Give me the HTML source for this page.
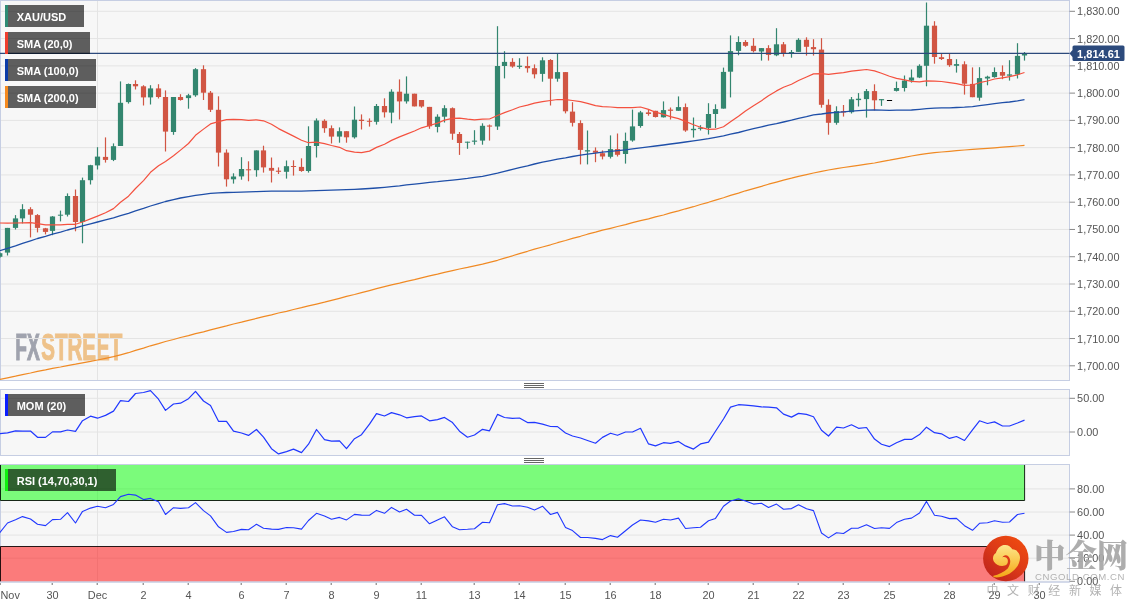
<!DOCTYPE html>
<html lang="en"><head><meta charset="utf-8"><title>XAU/USD</title>
<style>
html,body{margin:0;padding:0;background:#fff;}
body{width:1140px;height:608px;overflow:hidden;position:relative;font-family:"Liberation Sans","Noto Sans CJK SC",sans-serif;}
svg{position:absolute;left:0;top:0;display:block;}
text{font-family:"Liberation Sans","Noto Sans CJK SC",sans-serif;}
.ax{font-size:10.9px;fill:#555;}
.tag{font-size:11px;font-weight:bold;fill:#fff;}
</style></head><body>
<svg width="1140" height="608" viewBox="0 0 1140 608">
<rect x="0" y="0" width="1140" height="608" fill="#fff"/>
<rect x="0.5" y="0.5" width="1069.0" height="380.0" fill="#f7f7f7" stroke="#c6cee3" stroke-width="1"/>
<rect x="0.5" y="389.5" width="1069.0" height="66.0" fill="#f7f7f7" stroke="#c6cee3" stroke-width="1"/>
<rect x="0.5" y="464.5" width="1069.0" height="117.5" fill="#f7f7f7" stroke="#c6cee3" stroke-width="1"/>
<g font-weight="bold" font-size="36.3" opacity="0.8" transform="translate(15.3,359.9) scale(0.575,1)"><text x="0" y="0" fill="#8b8f9c" stroke="#8b8f9c" stroke-width="1.2" textLength="42.5" lengthAdjust="spacingAndGlyphs">FX</text><text x="45" y="0" fill="#edb56f" stroke="#edb56f" stroke-width="1.2" textLength="141" lengthAdjust="spacingAndGlyphs">STREET</text></g>
<g stroke="#e4e4e4" stroke-width="1" fill="none">
<path d="M1 11.3H1069.0"/>
<path d="M1 38.57H1069.0"/>
<path d="M1 65.84H1069.0"/>
<path d="M1 93.11H1069.0"/>
<path d="M1 120.38H1069.0"/>
<path d="M1 147.65H1069.0"/>
<path d="M1 174.92H1069.0"/>
<path d="M1 202.19H1069.0"/>
<path d="M1 229.46H1069.0"/>
<path d="M1 256.73H1069.0"/>
<path d="M1 284.0H1069.0"/>
<path d="M1 311.27H1069.0"/>
<path d="M1 338.54H1069.0"/>
<path d="M1 365.81H1069.0"/>
<path d="M97.5 1V380"/><path d="M97.5 390V455"/><path d="M97.5 465V581.5"/>
<path d="M1 398.3H1069.0"/>
<path d="M1 432.0H1069.0"/>
<path d="M1 488.9H1069.0"/>
<path d="M1 512.0H1069.0"/>
<path d="M1 535.1H1069.0"/>
<path d="M1 558.2H1069.0"/>
</g>
<g stroke="#666" stroke-width="1">
<path d="M524 383.5H544"/>
<path d="M524 385.5H544"/>
<path d="M524 387.5H544"/>
<path d="M524 458.5H544"/>
<path d="M524 460.5H544"/>
<path d="M524 462.5H544"/>
</g>
<g stroke="#888" stroke-width="1">
<path d="M1069.5 11.3H1075.0"/>
<path d="M1069.5 38.57H1075.0"/>
<path d="M1069.5 65.84H1075.0"/>
<path d="M1069.5 93.11H1075.0"/>
<path d="M1069.5 120.38H1075.0"/>
<path d="M1069.5 147.65H1075.0"/>
<path d="M1069.5 174.92H1075.0"/>
<path d="M1069.5 202.19H1075.0"/>
<path d="M1069.5 229.46H1075.0"/>
<path d="M1069.5 256.73H1075.0"/>
<path d="M1069.5 284.0H1075.0"/>
<path d="M1069.5 311.27H1075.0"/>
<path d="M1069.5 338.54H1075.0"/>
<path d="M1069.5 365.81H1075.0"/>
<path d="M1069.5 398.3H1075.0"/>
<path d="M1069.5 432.0H1075.0"/>
<path d="M1069.5 488.9H1075.0"/>
<path d="M1069.5 512.0H1075.0"/>
<path d="M1069.5 535.1H1075.0"/>
<path d="M1069.5 558.2H1075.0"/>
<path d="M1069.5 581.3H1075.0"/>
</g>
<g class="ax">
<text x="1077.1" y="15.30">1,830.00</text>
<text x="1077.1" y="42.57">1,820.00</text>
<text x="1077.1" y="69.84">1,810.00</text>
<text x="1077.1" y="97.11">1,800.00</text>
<text x="1077.1" y="124.38">1,790.00</text>
<text x="1077.1" y="151.65">1,780.00</text>
<text x="1077.1" y="178.92">1,770.00</text>
<text x="1077.1" y="206.19">1,760.00</text>
<text x="1077.1" y="233.46">1,750.00</text>
<text x="1077.1" y="260.73">1,740.00</text>
<text x="1077.1" y="288.00">1,730.00</text>
<text x="1077.1" y="315.27">1,720.00</text>
<text x="1077.1" y="342.54">1,710.00</text>
<text x="1077.1" y="369.81">1,700.00</text>
<text x="1077.1" y="402.0">50.00</text>
<text x="1077.1" y="435.8">0.00</text>
<text x="1077.1" y="492.79999999999995">80.00</text>
<text x="1077.1" y="515.9">60.00</text>
<text x="1077.1" y="539.0">40.00</text>
<text x="1077.1" y="562.1">20.00</text>
<text x="1077.1" y="585.2">0.00</text>
</g>
<rect x="0" y="465" width="1024.6" height="35.5" fill="#00ff00" fill-opacity="0.5"/>
<rect x="0" y="546.5" width="1024.6" height="35" fill="#ff0000" fill-opacity="0.5"/>
<path d="M0.5 465V500.5H1024.6V465" fill="none" stroke="#061006" stroke-opacity="0.9" stroke-width="1"/>
<path d="M0.5 581.5V546.5H1024.6V581.5" fill="none" stroke="#100606" stroke-opacity="0.9" stroke-width="1"/>
<path d="M0 464.5H1069.5M0 582H1069.5" fill="none" stroke="#c6cee3" stroke-width="1"/>
<path d="M-0.2 252.3V258.0" stroke="#33866f" stroke-width="1.2"/>
<rect x="-2.8" y="253.2" width="5.2" height="3.6" fill="#33866f"/>
<path d="M7.5 227.9V255.5" stroke="#33866f" stroke-width="1.2"/>
<rect x="4.9" y="227.9" width="5.2" height="24.7" fill="#33866f"/>
<path d="M15.5 215.1V229.5" stroke="#33866f" stroke-width="1.2"/>
<rect x="12.9" y="218.4" width="5.2" height="9.5" fill="#33866f"/>
<path d="M22.5 204.2V223.4" stroke="#33866f" stroke-width="1.2"/>
<rect x="19.9" y="209.2" width="5.2" height="9.2" fill="#33866f"/>
<path d="M30.5 207.2V237.4" stroke="#d15543" stroke-width="1.2"/>
<rect x="27.9" y="209.2" width="5.2" height="5.5" fill="#d15543"/>
<path d="M37.5 214.1V232.4" stroke="#d15543" stroke-width="1.2"/>
<rect x="34.9" y="215.1" width="5.2" height="12.8" fill="#d15543"/>
<path d="M45.5 227.9V234.4" stroke="#d15543" stroke-width="1.2"/>
<rect x="42.9" y="228.3" width="5.2" height="3.6" fill="#d15543"/>
<path d="M52.5 216.1V235.2" stroke="#33866f" stroke-width="1.2"/>
<rect x="49.9" y="216.5" width="5.2" height="14.4" fill="#33866f"/>
<path d="M60.5 210.6V221.4" stroke="#33866f" stroke-width="1.2"/>
<rect x="57.9" y="214.7" width="5.2" height="1.0" fill="#33866f"/>
<path d="M67.5 193.4V216.5" stroke="#33866f" stroke-width="1.2"/>
<rect x="64.9" y="196.0" width="5.2" height="18.7" fill="#33866f"/>
<path d="M75.5 189.5V231.3" stroke="#d15543" stroke-width="1.2"/>
<rect x="72.9" y="196.0" width="5.2" height="26.0" fill="#d15543"/>
<path d="M82.5 177.6V243.3" stroke="#33866f" stroke-width="1.2"/>
<rect x="79.9" y="180.2" width="5.2" height="41.8" fill="#33866f"/>
<path d="M90.5 164.8V184.5" stroke="#33866f" stroke-width="1.2"/>
<rect x="87.9" y="165.2" width="5.2" height="15.0" fill="#33866f"/>
<path d="M97.5 147.2V169.5" stroke="#33866f" stroke-width="1.2"/>
<rect x="94.9" y="156.6" width="5.2" height="8.8" fill="#33866f"/>
<path d="M105.5 137.4V162.6" stroke="#d15543" stroke-width="1.2"/>
<rect x="102.9" y="156.9" width="5.2" height="3.0" fill="#d15543"/>
<path d="M113.5 143.4V161.1" stroke="#33866f" stroke-width="1.2"/>
<rect x="110.9" y="146.2" width="5.2" height="13.7" fill="#33866f"/>
<path d="M120.5 81.4V146.0" stroke="#33866f" stroke-width="1.2"/>
<rect x="117.9" y="102.8" width="5.2" height="43.2" fill="#33866f"/>
<path d="M128.5 83.5V103.6" stroke="#33866f" stroke-width="1.2"/>
<rect x="125.9" y="84.0" width="5.2" height="18.1" fill="#33866f"/>
<path d="M135.5 80.3V89.5" stroke="#d15543" stroke-width="1.2"/>
<rect x="132.9" y="84.0" width="5.2" height="2.3" fill="#d15543"/>
<path d="M143.5 85.2V105.5" stroke="#d15543" stroke-width="1.2"/>
<rect x="140.9" y="86.3" width="5.2" height="11.1" fill="#d15543"/>
<path d="M150.5 85.2V104.5" stroke="#33866f" stroke-width="1.2"/>
<rect x="147.9" y="88.4" width="5.2" height="9.0" fill="#33866f"/>
<path d="M158.5 84.2V98.5" stroke="#d15543" stroke-width="1.2"/>
<rect x="155.9" y="88.4" width="5.2" height="8.6" fill="#d15543"/>
<path d="M165.5 90.4V151.5" stroke="#d15543" stroke-width="1.2"/>
<rect x="162.9" y="97.0" width="5.2" height="34.6" fill="#d15543"/>
<path d="M173.5 97.0V134.8" stroke="#33866f" stroke-width="1.2"/>
<rect x="170.9" y="97.0" width="5.2" height="35.0" fill="#33866f"/>
<path d="M180.5 94.2V100.6" stroke="#d15543" stroke-width="1.2"/>
<rect x="177.9" y="97.0" width="5.2" height="3.0" fill="#d15543"/>
<path d="M188.5 93.8V108.7" stroke="#33866f" stroke-width="1.2"/>
<rect x="185.9" y="95.3" width="5.2" height="2.8" fill="#33866f"/>
<path d="M195.5 68.1V96.8" stroke="#33866f" stroke-width="1.2"/>
<rect x="192.9" y="69.2" width="5.2" height="26.1" fill="#33866f"/>
<path d="M203.5 65.3V100.0" stroke="#d15543" stroke-width="1.2"/>
<rect x="200.9" y="69.2" width="5.2" height="23.5" fill="#d15543"/>
<path d="M210.5 91.0V112.0" stroke="#d15543" stroke-width="1.2"/>
<rect x="207.9" y="92.7" width="5.2" height="17.1" fill="#d15543"/>
<path d="M218.5 96.3V166.5" stroke="#d15543" stroke-width="1.2"/>
<rect x="215.9" y="109.8" width="5.2" height="42.8" fill="#d15543"/>
<path d="M226.5 149.4V186.6" stroke="#d15543" stroke-width="1.2"/>
<rect x="223.9" y="152.6" width="5.2" height="26.7" fill="#d15543"/>
<path d="M233.5 173.3V183.6" stroke="#33866f" stroke-width="1.2"/>
<rect x="230.9" y="176.5" width="5.2" height="2.8" fill="#33866f"/>
<path d="M241.5 157.2V179.7" stroke="#33866f" stroke-width="1.2"/>
<rect x="238.9" y="169.0" width="5.2" height="7.4" fill="#33866f"/>
<path d="M248.5 161.3V181.3" stroke="#d15543" stroke-width="1.2"/>
<rect x="245.9" y="169.3" width="5.2" height="1.0" fill="#d15543"/>
<path d="M256.5 150.4V176.7" stroke="#33866f" stroke-width="1.2"/>
<rect x="253.9" y="150.4" width="5.2" height="19.8" fill="#33866f"/>
<path d="M263.5 145.7V172.6" stroke="#d15543" stroke-width="1.2"/>
<rect x="260.9" y="150.4" width="5.2" height="17.0" fill="#d15543"/>
<path d="M271.5 157.5V182.5" stroke="#d15543" stroke-width="1.2"/>
<rect x="268.9" y="167.9" width="5.2" height="2.8" fill="#d15543"/>
<path d="M278.5 167.4V174.0" stroke="#d15543" stroke-width="1.2"/>
<rect x="275.9" y="170.7" width="5.2" height="1.1" fill="#d15543"/>
<path d="M286.5 160.5V178.6" stroke="#33866f" stroke-width="1.2"/>
<rect x="283.9" y="166.2" width="5.2" height="5.6" fill="#33866f"/>
<path d="M293.5 160.3V175.6" stroke="#d15543" stroke-width="1.2"/>
<rect x="290.9" y="166.0" width="5.2" height="1.0" fill="#d15543"/>
<path d="M301.5 158.3V171.8" stroke="#d15543" stroke-width="1.2"/>
<rect x="298.9" y="166.9" width="5.2" height="4.1" fill="#d15543"/>
<path d="M308.5 126.3V172.6" stroke="#33866f" stroke-width="1.2"/>
<rect x="305.9" y="146.0" width="5.2" height="25.0" fill="#33866f"/>
<path d="M316.5 118.4V157.5" stroke="#33866f" stroke-width="1.2"/>
<rect x="313.9" y="120.5" width="5.2" height="25.5" fill="#33866f"/>
<path d="M324.5 119.3V132.8" stroke="#d15543" stroke-width="1.2"/>
<rect x="321.9" y="120.8" width="5.2" height="7.4" fill="#d15543"/>
<path d="M331.5 125.4V143.5" stroke="#d15543" stroke-width="1.2"/>
<rect x="328.9" y="128.2" width="5.2" height="8.4" fill="#d15543"/>
<path d="M339.5 127.4V142.7" stroke="#33866f" stroke-width="1.2"/>
<rect x="336.9" y="131.2" width="5.2" height="5.4" fill="#33866f"/>
<path d="M346.5 131.2V142.7" stroke="#d15543" stroke-width="1.2"/>
<rect x="343.9" y="131.2" width="5.2" height="6.1" fill="#d15543"/>
<path d="M354.5 106.5V138.6" stroke="#33866f" stroke-width="1.2"/>
<rect x="351.9" y="119.7" width="5.2" height="17.6" fill="#33866f"/>
<path d="M361.5 114.4V129.5" stroke="#d15543" stroke-width="1.2"/>
<rect x="358.9" y="119.7" width="5.2" height="1.3" fill="#d15543"/>
<path d="M369.5 118.4V126.6" stroke="#d15543" stroke-width="1.2"/>
<rect x="366.9" y="120.8" width="5.2" height="1.0" fill="#d15543"/>
<path d="M376.5 104.0V124.6" stroke="#33866f" stroke-width="1.2"/>
<rect x="373.9" y="106.0" width="5.2" height="15.8" fill="#33866f"/>
<path d="M384.5 98.3V117.5" stroke="#d15543" stroke-width="1.2"/>
<rect x="381.9" y="106.0" width="5.2" height="6.3" fill="#d15543"/>
<path d="M391.5 89.3V123.3" stroke="#33866f" stroke-width="1.2"/>
<rect x="388.9" y="91.7" width="5.2" height="20.9" fill="#33866f"/>
<path d="M399.5 79.4V119.5" stroke="#d15543" stroke-width="1.2"/>
<rect x="396.9" y="91.7" width="5.2" height="9.7" fill="#d15543"/>
<path d="M406.5 76.4V103.6" stroke="#33866f" stroke-width="1.2"/>
<rect x="403.9" y="93.7" width="5.2" height="7.7" fill="#33866f"/>
<path d="M414.5 93.7V106.4" stroke="#d15543" stroke-width="1.2"/>
<rect x="411.9" y="93.7" width="5.2" height="12.7" fill="#d15543"/>
<path d="M421.5 100.0V107.7" stroke="#d15543" stroke-width="1.2"/>
<rect x="418.9" y="100.0" width="5.2" height="6.5" fill="#d15543"/>
<path d="M429.5 106.9V128.8" stroke="#d15543" stroke-width="1.2"/>
<rect x="426.9" y="106.9" width="5.2" height="19.4" fill="#d15543"/>
<path d="M437.5 114.3V132.4" stroke="#33866f" stroke-width="1.2"/>
<rect x="434.9" y="116.7" width="5.2" height="10.2" fill="#33866f"/>
<path d="M444.5 105.2V122.5" stroke="#33866f" stroke-width="1.2"/>
<rect x="441.9" y="108.2" width="5.2" height="8.5" fill="#33866f"/>
<path d="M452.5 107.4V139.8" stroke="#d15543" stroke-width="1.2"/>
<rect x="449.9" y="108.2" width="5.2" height="25.5" fill="#d15543"/>
<path d="M459.5 132.0V154.9" stroke="#d15543" stroke-width="1.2"/>
<rect x="456.9" y="134.0" width="5.2" height="9.0" fill="#d15543"/>
<path d="M467.5 141.7V148.8" stroke="#33866f" stroke-width="1.2"/>
<rect x="464.9" y="141.7" width="5.2" height="1.0" fill="#33866f"/>
<path d="M474.5 130.2V144.7" stroke="#33866f" stroke-width="1.2"/>
<rect x="471.9" y="140.6" width="5.2" height="1.1" fill="#33866f"/>
<path d="M482.5 123.3V144.7" stroke="#33866f" stroke-width="1.2"/>
<rect x="479.9" y="125.8" width="5.2" height="14.8" fill="#33866f"/>
<path d="M489.5 124.5V140.6" stroke="#d15543" stroke-width="1.2"/>
<rect x="486.9" y="125.5" width="5.2" height="1.1" fill="#d15543"/>
<path d="M497.5 26.2V129.9" stroke="#33866f" stroke-width="1.2"/>
<rect x="494.9" y="66.0" width="5.2" height="60.5" fill="#33866f"/>
<path d="M504.5 51.2V78.4" stroke="#33866f" stroke-width="1.2"/>
<rect x="501.9" y="61.9" width="5.2" height="4.1" fill="#33866f"/>
<path d="M512.5 58.2V67.7" stroke="#d15543" stroke-width="1.2"/>
<rect x="509.9" y="61.9" width="5.2" height="4.6" fill="#d15543"/>
<path d="M519.5 58.2V68.8" stroke="#33866f" stroke-width="1.2"/>
<rect x="516.9" y="65.7" width="5.2" height="1.2" fill="#33866f"/>
<path d="M527.5 56.5V72.6" stroke="#d15543" stroke-width="1.2"/>
<rect x="524.9" y="66.0" width="5.2" height="2.2" fill="#d15543"/>
<path d="M534.5 64.4V78.4" stroke="#d15543" stroke-width="1.2"/>
<rect x="531.9" y="68.2" width="5.2" height="6.1" fill="#d15543"/>
<path d="M542.5 57.3V81.7" stroke="#33866f" stroke-width="1.2"/>
<rect x="539.9" y="60.3" width="5.2" height="13.6" fill="#33866f"/>
<path d="M550.5 59.1V105.5" stroke="#d15543" stroke-width="1.2"/>
<rect x="547.9" y="60.0" width="5.2" height="18.7" fill="#d15543"/>
<path d="M557.5 54.0V81.7" stroke="#33866f" stroke-width="1.2"/>
<rect x="554.9" y="72.1" width="5.2" height="6.6" fill="#33866f"/>
<path d="M565.5 72.1V113.4" stroke="#d15543" stroke-width="1.2"/>
<rect x="562.9" y="72.1" width="5.2" height="39.2" fill="#d15543"/>
<path d="M572.5 102.2V126.5" stroke="#d15543" stroke-width="1.2"/>
<rect x="569.9" y="111.6" width="5.2" height="11.2" fill="#d15543"/>
<path d="M580.5 120.3V164.4" stroke="#d15543" stroke-width="1.2"/>
<rect x="577.9" y="123.1" width="5.2" height="26.8" fill="#d15543"/>
<path d="M587.5 130.5V164.4" stroke="#33866f" stroke-width="1.2"/>
<rect x="584.9" y="150.2" width="5.2" height="1.3" fill="#33866f"/>
<path d="M595.5 147.4V162.2" stroke="#d15543" stroke-width="1.2"/>
<rect x="592.9" y="150.7" width="5.2" height="2.0" fill="#d15543"/>
<path d="M602.5 150.4V159.4" stroke="#d15543" stroke-width="1.2"/>
<rect x="599.9" y="153.2" width="5.2" height="3.3" fill="#d15543"/>
<path d="M610.5 135.4V158.5" stroke="#33866f" stroke-width="1.2"/>
<rect x="607.9" y="149.1" width="5.2" height="7.7" fill="#33866f"/>
<path d="M617.5 133.5V156.5" stroke="#d15543" stroke-width="1.2"/>
<rect x="614.9" y="149.1" width="5.2" height="5.7" fill="#d15543"/>
<path d="M625.5 132.6V163.6" stroke="#33866f" stroke-width="1.2"/>
<rect x="622.9" y="140.9" width="5.2" height="13.1" fill="#33866f"/>
<path d="M632.5 109.6V141.7" stroke="#33866f" stroke-width="1.2"/>
<rect x="629.9" y="126.4" width="5.2" height="14.1" fill="#33866f"/>
<path d="M640.5 110.9V127.7" stroke="#33866f" stroke-width="1.2"/>
<rect x="637.9" y="112.4" width="5.2" height="13.6" fill="#33866f"/>
<path d="M648.5 109.3V115.7" stroke="#d15543" stroke-width="1.2"/>
<rect x="645.9" y="112.4" width="5.2" height="1.6" fill="#d15543"/>
<path d="M655.5 110.8V117.5" stroke="#d15543" stroke-width="1.2"/>
<rect x="652.9" y="110.8" width="5.2" height="6.2" fill="#d15543"/>
<path d="M663.5 101.4V117.5" stroke="#33866f" stroke-width="1.2"/>
<rect x="660.9" y="110.1" width="5.2" height="7.2" fill="#33866f"/>
<path d="M670.5 107.5V119.5" stroke="#d15543" stroke-width="1.2"/>
<rect x="667.9" y="109.6" width="5.2" height="1.2" fill="#d15543"/>
<path d="M678.5 96.4V110.8" stroke="#33866f" stroke-width="1.2"/>
<rect x="675.9" y="107.1" width="5.2" height="3.7" fill="#33866f"/>
<path d="M685.5 103.5V131.8" stroke="#d15543" stroke-width="1.2"/>
<rect x="682.9" y="107.1" width="5.2" height="23.4" fill="#d15543"/>
<path d="M693.5 117.5V137.6" stroke="#33866f" stroke-width="1.2"/>
<rect x="690.9" y="128.8" width="5.2" height="1.4" fill="#33866f"/>
<path d="M700.5 125.2V130.5" stroke="#33866f" stroke-width="1.2"/>
<rect x="697.9" y="127.7" width="5.2" height="1.1" fill="#33866f"/>
<path d="M708.5 103.2V134.5" stroke="#33866f" stroke-width="1.2"/>
<rect x="705.9" y="114.0" width="5.2" height="13.9" fill="#33866f"/>
<path d="M715.5 104.3V128.0" stroke="#33866f" stroke-width="1.2"/>
<rect x="712.9" y="109.1" width="5.2" height="4.9" fill="#33866f"/>
<path d="M723.5 67.6V108.6" stroke="#33866f" stroke-width="1.2"/>
<rect x="720.9" y="71.9" width="5.2" height="36.7" fill="#33866f"/>
<path d="M730.5 35.4V97.4" stroke="#33866f" stroke-width="1.2"/>
<rect x="727.9" y="51.1" width="5.2" height="20.6" fill="#33866f"/>
<path d="M738.5 36.3V55.3" stroke="#33866f" stroke-width="1.2"/>
<rect x="735.9" y="42.0" width="5.2" height="8.9" fill="#33866f"/>
<path d="M745.5 40.1V46.8" stroke="#d15543" stroke-width="1.2"/>
<rect x="742.9" y="42.0" width="5.2" height="3.8" fill="#d15543"/>
<path d="M753.5 38.2V52.4" stroke="#d15543" stroke-width="1.2"/>
<rect x="750.9" y="45.8" width="5.2" height="5.3" fill="#d15543"/>
<path d="M761.5 48.1V60.6" stroke="#33866f" stroke-width="1.2"/>
<rect x="758.9" y="48.1" width="5.2" height="3.4" fill="#33866f"/>
<path d="M768.5 45.2V60.6" stroke="#d15543" stroke-width="1.2"/>
<rect x="765.9" y="48.1" width="5.2" height="6.8" fill="#d15543"/>
<path d="M776.5 28.2V56.2" stroke="#33866f" stroke-width="1.2"/>
<rect x="773.9" y="44.3" width="5.2" height="11.0" fill="#33866f"/>
<path d="M783.5 42.0V56.6" stroke="#d15543" stroke-width="1.2"/>
<rect x="780.9" y="44.3" width="5.2" height="9.1" fill="#d15543"/>
<path d="M791.5 50.0V57.7" stroke="#33866f" stroke-width="1.2"/>
<rect x="788.9" y="52.0" width="5.2" height="1.4" fill="#33866f"/>
<path d="M798.5 38.2V51.9" stroke="#33866f" stroke-width="1.2"/>
<rect x="795.9" y="39.8" width="5.2" height="12.1" fill="#33866f"/>
<path d="M806.5 37.3V55.6" stroke="#d15543" stroke-width="1.2"/>
<rect x="803.9" y="39.8" width="5.2" height="7.0" fill="#d15543"/>
<path d="M813.5 39.2V55.6" stroke="#d15543" stroke-width="1.2"/>
<rect x="810.9" y="47.1" width="5.2" height="2.1" fill="#d15543"/>
<path d="M821.5 38.2V107.7" stroke="#d15543" stroke-width="1.2"/>
<rect x="818.9" y="49.6" width="5.2" height="55.2" fill="#d15543"/>
<path d="M828.5 99.3V134.7" stroke="#d15543" stroke-width="1.2"/>
<rect x="825.9" y="104.8" width="5.2" height="18.0" fill="#d15543"/>
<path d="M836.5 106.3V124.7" stroke="#33866f" stroke-width="1.2"/>
<rect x="833.9" y="111.1" width="5.2" height="11.7" fill="#33866f"/>
<path d="M843.5 105.0V116.6" stroke="#d15543" stroke-width="1.2"/>
<rect x="840.9" y="111.1" width="5.2" height="1.4" fill="#d15543"/>
<path d="M851.5 97.0V113.5" stroke="#33866f" stroke-width="1.2"/>
<rect x="848.9" y="99.3" width="5.2" height="12.9" fill="#33866f"/>
<path d="M858.5 93.1V106.5" stroke="#33866f" stroke-width="1.2"/>
<rect x="855.9" y="98.7" width="5.2" height="1.4" fill="#33866f"/>
<path d="M866.5 89.0V117.6" stroke="#33866f" stroke-width="1.2"/>
<rect x="863.9" y="91.1" width="5.2" height="8.0" fill="#33866f"/>
<path d="M874.5 84.3V110.4" stroke="#d15543" stroke-width="1.2"/>
<rect x="871.9" y="91.1" width="5.2" height="9.2" fill="#d15543"/>
<path d="M881.5 99.1V105.9" stroke="#33866f" stroke-width="1.2"/>
<rect x="878.9" y="99.1" width="5.2" height="1.2" fill="#33866f"/>
<path d="M889.5 100.5V100.5" stroke="#000" stroke-width="1.2"/>
<rect x="886.9" y="100.0" width="5.2" height="1.0" fill="#000"/>
<path d="M896.5 81.6V91.5" stroke="#33866f" stroke-width="1.2"/>
<rect x="893.9" y="88.0" width="5.2" height="2.9" fill="#33866f"/>
<path d="M904.5 75.5V91.5" stroke="#33866f" stroke-width="1.2"/>
<rect x="901.9" y="80.6" width="5.2" height="7.4" fill="#33866f"/>
<path d="M911.5 69.5V82.6" stroke="#33866f" stroke-width="1.2"/>
<rect x="908.9" y="77.5" width="5.2" height="3.1" fill="#33866f"/>
<path d="M919.5 64.3V78.1" stroke="#33866f" stroke-width="1.2"/>
<rect x="916.9" y="65.8" width="5.2" height="11.7" fill="#33866f"/>
<path d="M926.5 2.5V86.3" stroke="#33866f" stroke-width="1.2"/>
<rect x="923.9" y="25.7" width="5.2" height="40.1" fill="#33866f"/>
<path d="M934.5 21.2V63.7" stroke="#d15543" stroke-width="1.2"/>
<rect x="931.9" y="25.7" width="5.2" height="31.3" fill="#d15543"/>
<path d="M941.5 53.0V60.0" stroke="#d15543" stroke-width="1.2"/>
<rect x="938.9" y="57.2" width="5.2" height="1.8" fill="#d15543"/>
<path d="M949.5 53.9V66.8" stroke="#d15543" stroke-width="1.2"/>
<rect x="946.9" y="59.0" width="5.2" height="6.2" fill="#d15543"/>
<path d="M956.5 59.2V72.6" stroke="#33866f" stroke-width="1.2"/>
<rect x="953.9" y="64.1" width="5.2" height="1.7" fill="#33866f"/>
<path d="M964.5 61.3V94.6" stroke="#d15543" stroke-width="1.2"/>
<rect x="961.9" y="64.3" width="5.2" height="19.4" fill="#d15543"/>
<path d="M972.5 67.4V97.2" stroke="#d15543" stroke-width="1.2"/>
<rect x="969.9" y="83.9" width="5.2" height="13.3" fill="#d15543"/>
<path d="M979.5 67.2V100.7" stroke="#33866f" stroke-width="1.2"/>
<rect x="976.9" y="78.1" width="5.2" height="19.6" fill="#33866f"/>
<path d="M987.5 75.7V85.3" stroke="#33866f" stroke-width="1.2"/>
<rect x="984.9" y="76.7" width="5.2" height="1.8" fill="#33866f"/>
<path d="M994.5 67.4V77.7" stroke="#33866f" stroke-width="1.2"/>
<rect x="991.9" y="72.0" width="5.2" height="5.1" fill="#33866f"/>
<path d="M1002.5 65.4V79.2" stroke="#d15543" stroke-width="1.2"/>
<rect x="999.9" y="72.0" width="5.2" height="3.7" fill="#d15543"/>
<path d="M1009.5 60.2V80.6" stroke="#33866f" stroke-width="1.2"/>
<rect x="1006.9" y="74.4" width="5.2" height="1.3" fill="#33866f"/>
<path d="M1017.5 43.2V78.5" stroke="#33866f" stroke-width="1.2"/>
<rect x="1014.9" y="55.9" width="5.2" height="18.5" fill="#33866f"/>
<path d="M1024.5 52.0V60.6" stroke="#33866f" stroke-width="1.2"/>
<rect x="1021.9" y="53.9" width="5.2" height="1.6" fill="#33866f"/>
<path d="M-0.2 379.4 L7.5 377.8 L15.5 376.2 L22.5 374.6 L30.5 373.0 L37.5 371.4 L45.5 369.9 L52.5 368.4 L60.5 367.0 L67.5 365.6 L75.5 364.2 L82.5 362.8 L90.5 361.4 L97.5 360.0 L105.5 358.4 L113.5 356.7 L120.5 354.8 L128.5 352.7 L135.5 350.4 L143.5 348.1 L150.5 345.8 L158.5 343.6 L165.5 341.5 L173.5 339.5 L180.5 337.5 L188.5 335.7 L195.5 333.7 L203.5 331.8 L210.5 329.8 L218.5 327.8 L226.5 325.9 L233.5 324.0 L241.5 322.2 L248.5 320.3 L256.5 318.4 L263.5 316.6 L271.5 314.8 L278.5 313.0 L286.5 311.3 L293.5 309.5 L301.5 307.7 L308.5 305.9 L316.5 304.1 L324.5 302.2 L331.5 300.3 L339.5 298.3 L346.5 296.4 L354.5 294.5 L361.5 292.6 L369.5 290.6 L376.5 288.7 L384.5 286.7 L391.5 284.9 L399.5 283.1 L406.5 281.3 L414.5 279.6 L421.5 277.8 L429.5 275.9 L437.5 274.1 L444.5 272.3 L452.5 270.6 L459.5 269.0 L467.5 267.4 L474.5 265.8 L482.5 264.2 L489.5 262.4 L497.5 260.3 L504.5 258.1 L512.5 255.8 L519.5 253.6 L527.5 251.3 L534.5 249.1 L542.5 247.0 L550.5 244.8 L557.5 242.7 L565.5 240.5 L572.5 238.4 L580.5 236.3 L587.5 234.2 L595.5 232.2 L602.5 230.2 L610.5 228.3 L617.5 226.5 L625.5 224.6 L632.5 222.7 L640.5 220.7 L648.5 218.8 L655.5 216.9 L663.5 215.0 L670.5 212.9 L678.5 210.9 L685.5 208.8 L693.5 206.7 L700.5 204.5 L708.5 202.3 L715.5 200.1 L723.5 197.7 L730.5 195.4 L738.5 193.1 L745.5 190.8 L753.5 188.6 L761.5 186.4 L768.5 184.2 L776.5 182.1 L783.5 180.1 L791.5 178.2 L798.5 176.3 L806.5 174.6 L813.5 173.0 L821.5 171.4 L828.5 170.0 L836.5 168.7 L843.5 167.5 L851.5 166.4 L858.5 165.3 L866.5 164.2 L874.5 163.0 L881.5 161.6 L889.5 160.2 L896.5 158.8 L904.5 157.4 L911.5 156.0 L919.5 154.7 L926.5 153.6 L934.5 152.7 L941.5 152.0 L949.5 151.3 L956.5 150.6 L964.5 150.0 L972.5 149.4 L979.5 148.9 L987.5 148.3 L994.5 147.8 L1002.5 147.2 L1009.5 146.6 L1017.5 146.0 L1024.5 145.4" fill="none" stroke="#f08a24" stroke-width="1.2" stroke-linejoin="round" />
<path d="M-0.2 250.7 L7.5 248.3 L15.5 245.9 L22.5 243.3 L30.5 240.8 L37.5 238.5 L45.5 236.3 L52.5 234.1 L60.5 232.1 L67.5 230.0 L75.5 227.9 L82.5 225.9 L90.5 223.9 L97.5 222.0 L105.5 219.9 L113.5 217.9 L120.5 215.7 L128.5 213.3 L135.5 210.9 L143.5 208.4 L150.5 206.0 L158.5 203.6 L165.5 201.5 L173.5 199.6 L180.5 198.0 L188.5 196.6 L195.5 195.4 L203.5 194.3 L210.5 193.4 L218.5 192.9 L226.5 192.5 L233.5 192.3 L241.5 192.1 L248.5 191.9 L256.5 191.6 L263.5 191.4 L271.5 191.2 L278.5 191.1 L286.5 191.1 L293.5 191.1 L301.5 191.1 L308.5 190.9 L316.5 190.7 L324.5 190.4 L331.5 190.1 L339.5 189.9 L346.5 189.6 L354.5 189.3 L361.5 189.0 L369.5 188.5 L376.5 188.0 L384.5 187.3 L391.5 186.6 L399.5 185.8 L406.5 184.9 L414.5 184.1 L421.5 183.3 L429.5 182.4 L437.5 181.7 L444.5 180.9 L452.5 180.1 L459.5 179.3 L467.5 178.4 L474.5 177.4 L482.5 176.3 L489.5 174.9 L497.5 173.2 L504.5 171.4 L512.5 169.4 L519.5 167.6 L527.5 165.8 L534.5 164.0 L542.5 162.2 L550.5 160.6 L557.5 159.1 L565.5 157.8 L572.5 156.5 L580.5 155.2 L587.5 154.1 L595.5 153.1 L602.5 152.2 L610.5 151.4 L617.5 150.6 L625.5 149.8 L632.5 148.8 L640.5 147.9 L648.5 146.9 L655.5 146.0 L663.5 145.0 L670.5 144.0 L678.5 143.0 L685.5 142.0 L693.5 140.9 L700.5 139.8 L708.5 138.6 L715.5 137.3 L723.5 135.8 L730.5 134.2 L738.5 132.5 L745.5 130.7 L753.5 128.7 L761.5 126.9 L768.5 125.2 L776.5 123.6 L783.5 122.0 L791.5 120.2 L798.5 118.3 L806.5 116.6 L813.5 114.9 L821.5 114.0 L828.5 113.0 L836.5 112.3 L843.5 111.8 L851.5 111.2 L858.5 110.6 L866.5 110.1 L874.5 110.0 L881.5 110.2 L889.5 110.3 L896.5 110.2 L904.5 110.2 L911.5 110.0 L919.5 109.3 L926.5 108.6 L934.5 108.2 L941.5 107.8 L949.5 107.8 L956.5 107.5 L964.5 107.2 L972.5 106.7 L979.5 105.7 L987.5 104.7 L994.5 103.7 L1002.5 102.7 L1009.5 102.0 L1017.5 100.9 L1024.5 99.7" fill="none" stroke="#1f4fa8" stroke-width="1.3" stroke-linejoin="round" />
<path d="M-0.2 223.0 L7.5 223.2 L15.5 223.0 L22.5 222.8 L30.5 222.6 L37.5 223.7 L45.5 224.8 L52.5 224.8 L60.5 224.8 L67.5 224.4 L75.5 224.3 L82.5 222.0 L90.5 218.9 L97.5 216.1 L105.5 212.8 L113.5 208.6 L120.5 202.3 L128.5 196.2 L135.5 188.5 L143.5 180.6 L150.5 172.3 L158.5 165.8 L165.5 161.4 L173.5 155.8 L180.5 150.1 L188.5 143.5 L195.5 135.3 L203.5 129.1 L210.5 123.9 L218.5 121.7 L226.5 119.6 L233.5 119.4 L241.5 119.6 L248.5 120.3 L256.5 119.8 L263.5 120.8 L271.5 124.2 L278.5 128.6 L286.5 132.6 L293.5 136.1 L301.5 140.2 L308.5 142.7 L316.5 142.1 L324.5 143.7 L331.5 145.5 L339.5 147.3 L346.5 150.7 L354.5 152.1 L361.5 152.6 L369.5 151.1 L376.5 147.4 L384.5 144.2 L391.5 140.4 L399.5 136.9 L406.5 134.1 L414.5 131.0 L421.5 127.8 L429.5 125.5 L437.5 123.1 L444.5 120.1 L452.5 118.3 L459.5 118.1 L467.5 119.2 L474.5 119.8 L482.5 119.2 L489.5 119.0 L497.5 115.5 L504.5 112.6 L512.5 109.8 L519.5 107.0 L527.5 105.1 L534.5 103.2 L542.5 101.7 L550.5 100.5 L557.5 99.5 L565.5 99.7 L572.5 100.5 L580.5 101.7 L587.5 103.4 L595.5 105.6 L602.5 106.7 L610.5 107.0 L617.5 107.7 L625.5 107.7 L632.5 107.7 L640.5 107.0 L648.5 109.4 L655.5 112.2 L663.5 114.4 L670.5 116.6 L678.5 118.6 L685.5 121.4 L693.5 124.8 L700.5 127.3 L708.5 129.3 L715.5 129.2 L723.5 126.7 L730.5 121.8 L738.5 116.3 L745.5 111.0 L753.5 105.7 L761.5 100.7 L768.5 95.7 L776.5 90.9 L783.5 87.2 L791.5 84.2 L798.5 80.5 L806.5 77.0 L813.5 73.9 L821.5 73.6 L828.5 74.4 L836.5 73.4 L843.5 72.6 L851.5 71.2 L858.5 70.4 L866.5 69.5 L874.5 70.9 L881.5 73.3 L889.5 76.3 L896.5 78.4 L904.5 79.9 L911.5 81.3 L919.5 81.9 L926.5 80.9 L934.5 81.1 L941.5 81.5 L949.5 82.7 L956.5 83.6 L964.5 85.3 L972.5 85.0 L979.5 82.7 L987.5 81.0 L994.5 79.0 L1002.5 77.8 L1009.5 76.6 L1017.5 74.8 L1024.5 72.5" fill="none" stroke="#f4513f" stroke-width="1.2" stroke-linejoin="round" />
<path d="M0 53.4H1069.5" stroke="#2c4a7c" stroke-width="1.1"/>
<path d="M1069.5 53.5L1072.5 50V47a1.5 1.5 0 0 1 1.5 -1.5H1123a1.5 1.5 0 0 1 1.5 1.5V59.5a1.5 1.5 0 0 1 -1.5 1.5H1074a1.5 1.5 0 0 1 -1.5 -1.5V57Z" fill="#2c4a7c"/>
<text x="1077.1" y="57.5" font-size="11" font-weight="bold" fill="#fff">1,814.61</text>
<path d="M-0.2 433.6 L7.5 432.8 L15.5 430.8 L22.5 431.1 L30.5 431.0 L37.5 437.3 L45.5 437.4 L52.5 431.9 L60.5 431.9 L67.5 430.0 L75.5 431.3 L82.5 420.7 L90.5 416.2 L97.5 418.2 L105.5 415.4 L113.5 411.1 L120.5 400.7 L128.5 401.5 L135.5 393.5 L143.5 392.5 L150.5 390.7 L158.5 399.2 L165.5 410.4 L173.5 404.0 L180.5 403.2 L188.5 398.7 L195.5 391.3 L203.5 401.0 L210.5 405.6 L218.5 421.3 L226.5 421.3 L233.5 431.2 L241.5 433.0 L248.5 435.4 L256.5 429.5 L263.5 437.2 L271.5 448.7 L278.5 453.9 L286.5 451.6 L293.5 449.1 L301.5 452.6 L308.5 444.2 L316.5 429.5 L324.5 439.7 L331.5 441.2 L339.5 440.9 L346.5 448.7 L354.5 438.7 L361.5 434.7 L369.5 424.2 L376.5 413.6 L384.5 416.0 L391.5 412.6 L399.5 414.8 L406.5 417.8 L414.5 416.6 L421.5 415.9 L429.5 420.8 L437.5 419.6 L444.5 417.4 L452.5 422.6 L459.5 431.2 L467.5 437.2 L474.5 435.0 L482.5 429.3 L489.5 430.8 L497.5 414.4 L504.5 417.5 L512.5 418.3 L519.5 418.0 L527.5 422.6 L534.5 422.4 L542.5 424.2 L550.5 426.5 L557.5 426.6 L565.5 433.0 L572.5 436.0 L580.5 438.0 L587.5 440.5 L595.5 443.2 L602.5 437.4 L610.5 433.2 L617.5 435.3 L625.5 432.0 L632.5 432.0 L640.5 428.3 L648.5 443.9 L655.5 445.9 L663.5 442.7 L670.5 443.3 L678.5 441.4 L685.5 445.9 L693.5 449.1 L700.5 443.9 L708.5 442.1 L715.5 431.2 L723.5 419.0 L730.5 407.1 L738.5 404.7 L745.5 405.1 L753.5 405.9 L761.5 406.9 L768.5 407.2 L776.5 407.8 L783.5 414.1 L791.5 417.1 L798.5 413.4 L806.5 414.4 L813.5 416.8 L821.5 430.2 L828.5 436.0 L836.5 427.1 L843.5 428.0 L851.5 424.8 L858.5 428.3 L866.5 427.5 L874.5 439.1 L881.5 444.2 L889.5 446.6 L896.5 442.7 L904.5 439.4 L911.5 439.4 L919.5 434.6 L926.5 427.2 L934.5 432.7 L941.5 433.8 L949.5 438.4 L956.5 436.5 L964.5 440.5 L972.5 429.8 L979.5 420.8 L987.5 423.5 L994.5 421.9 L1002.5 426.0 L1009.5 426.0 L1017.5 423.0 L1024.5 420.1" fill="none" stroke="#2038ff" stroke-width="1.2" stroke-linejoin="round" />
<path d="M-0.2 532.7 L7.5 523.0 L15.5 519.7 L22.5 516.6 L30.5 519.0 L37.5 524.2 L45.5 525.6 L52.5 519.6 L60.5 519.3 L67.5 512.6 L75.5 523.0 L82.5 511.4 L90.5 508.1 L97.5 506.2 L105.5 507.7 L113.5 504.4 L120.5 496.6 L128.5 494.2 L135.5 495.1 L143.5 499.6 L150.5 498.4 L158.5 501.7 L165.5 514.5 L173.5 507.7 L180.5 508.4 L188.5 507.7 L195.5 502.6 L203.5 510.6 L210.5 515.9 L218.5 526.8 L226.5 532.4 L233.5 531.5 L241.5 529.4 L248.5 529.7 L256.5 524.2 L263.5 528.2 L271.5 529.1 L278.5 529.4 L286.5 527.5 L293.5 527.8 L301.5 529.1 L308.5 520.5 L316.5 513.3 L324.5 516.0 L331.5 519.3 L339.5 517.4 L346.5 519.9 L354.5 514.4 L361.5 515.1 L369.5 515.3 L376.5 510.4 L384.5 513.3 L391.5 507.4 L399.5 512.0 L406.5 509.3 L414.5 515.3 L421.5 515.4 L429.5 523.8 L437.5 520.0 L444.5 516.8 L452.5 526.8 L459.5 529.7 L467.5 529.3 L474.5 528.7 L482.5 522.3 L489.5 522.8 L497.5 504.7 L504.5 503.6 L512.5 506.0 L519.5 505.7 L527.5 507.2 L534.5 510.1 L542.5 506.2 L550.5 514.5 L557.5 512.4 L565.5 527.4 L572.5 530.6 L580.5 537.5 L587.5 537.5 L595.5 538.4 L602.5 539.6 L610.5 535.6 L617.5 537.3 L625.5 530.8 L632.5 525.0 L640.5 520.0 L648.5 520.9 L655.5 522.3 L663.5 519.3 L670.5 520.0 L678.5 518.1 L685.5 528.5 L693.5 527.8 L700.5 527.2 L708.5 520.8 L715.5 518.4 L723.5 506.3 L730.5 501.0 L738.5 498.9 L745.5 501.0 L753.5 504.1 L761.5 503.3 L768.5 507.5 L776.5 504.1 L783.5 509.3 L791.5 508.6 L798.5 504.7 L806.5 508.8 L813.5 510.6 L821.5 533.0 L828.5 537.9 L836.5 532.7 L843.5 533.5 L851.5 528.2 L858.5 528.1 L866.5 524.8 L874.5 528.5 L881.5 527.8 L889.5 528.4 L896.5 522.6 L904.5 519.3 L911.5 518.1 L919.5 513.0 L926.5 501.4 L934.5 515.3 L941.5 516.3 L949.5 518.6 L956.5 518.4 L964.5 525.7 L972.5 530.3 L979.5 523.3 L987.5 522.7 L994.5 520.8 L1002.5 522.3 L1009.5 522.0 L1017.5 514.5 L1024.5 513.3" fill="none" stroke="#2038ff" stroke-width="1.1" stroke-linejoin="round" />
<rect x="5" y="5" width="79" height="22" fill="#000" fill-opacity="0.62"/>
<rect x="5" y="5" width="3" height="22" fill="#2e8b74"/>
<text class="tag" x="16.7" y="20.6">XAU/USD</text>
<rect x="5" y="32" width="85" height="22" fill="#000" fill-opacity="0.62"/>
<rect x="5" y="32" width="3" height="22" fill="#f03e2e"/>
<text class="tag" x="16.7" y="47.6">SMA (20,0)</text>
<rect x="5" y="59" width="91" height="22" fill="#000" fill-opacity="0.62"/>
<rect x="5" y="59" width="3" height="22" fill="#0c3ca8"/>
<text class="tag" x="16.7" y="74.6">SMA (100,0)</text>
<rect x="5" y="86" width="91" height="22" fill="#000" fill-opacity="0.62"/>
<rect x="5" y="86" width="3" height="22" fill="#f58a1f"/>
<text class="tag" x="16.7" y="101.6">SMA (200,0)</text>
<rect x="5" y="394" width="80" height="22" fill="#000" fill-opacity="0.62"/>
<rect x="5" y="394" width="3" height="22" fill="#0a1eff"/>
<text class="tag" x="16.7" y="409.6">MOM (20)</text>
<rect x="5" y="469" width="111" height="22" fill="#000" fill-opacity="0.62"/>
<rect x="5" y="469" width="3" height="22" fill="#10f010"/>
<text class="tag" x="16.7" y="484.6">RSI (14,70,30,1)</text>
<g stroke="#6e6e6e" stroke-width="1">
<path d="M0.2 583V585"/>
<path d="M52.2 583V585"/>
<path d="M97.2 583V585"/>
<path d="M143.2 583V585"/>
<path d="M188.2 583V585"/>
<path d="M241.2 583V585"/>
<path d="M286.2 583V585"/>
<path d="M331.2 583V585"/>
<path d="M376.2 583V585"/>
<path d="M421.2 583V585"/>
<path d="M474.2 583V585"/>
<path d="M519.2 583V585"/>
<path d="M565.2 583V585"/>
<path d="M610.2 583V585"/>
<path d="M655.2 583V585"/>
<path d="M708.2 583V585"/>
<path d="M753.2 583V585"/>
<path d="M798.2 583V585"/>
<path d="M843.2 583V585"/>
<path d="M889.2 583V585"/>
<path d="M949.2 583V585"/>
<path d="M994.2 583V585"/>
<path d="M1039.2 583V585"/>
</g>
<g class="ax" text-anchor="middle">
<text x="0.5" y="599" text-anchor="start">Nov</text>
<text x="52.5" y="599">30</text>
<text x="97.5" y="599">Dec</text>
<text x="143.5" y="599">2</text>
<text x="188.5" y="599">4</text>
<text x="241.5" y="599">6</text>
<text x="286.5" y="599">7</text>
<text x="331.5" y="599">8</text>
<text x="376.5" y="599">9</text>
<text x="421.5" y="599">11</text>
<text x="474.5" y="599">13</text>
<text x="519.5" y="599">14</text>
<text x="565.5" y="599">15</text>
<text x="610.5" y="599">16</text>
<text x="655.5" y="599">18</text>
<text x="708.5" y="599">20</text>
<text x="753.5" y="599">21</text>
<text x="798.5" y="599">22</text>
<text x="843.5" y="599">23</text>
<text x="889.5" y="599">25</text>
<text x="949.5" y="599">28</text>
<text x="994.5" y="599">29</text>
<text x="1039.5" y="599">30</text>
</g>
<defs><linearGradient id="cg" x1="0.85" y1="0.1" x2="0.2" y2="0.9"><stop offset="0" stop-color="#ee4a10"/><stop offset="0.5" stop-color="#dc3a18"/><stop offset="1" stop-color="#c2261c"/></linearGradient><linearGradient id="gg" x1="0" y1="0" x2="0" y2="1"><stop offset="0" stop-color="#fde68c"/><stop offset="0.5" stop-color="#fac84e"/><stop offset="1" stop-color="#f4a516"/></linearGradient></defs>
<g id="wm">
<circle cx="1005.8" cy="558.5" r="22.7" fill="url(#cg)"/>
<path transform="translate(974.7,530.1) scale(0.09868)" fill="url(#gg)" d="M190 463C240 448 298 425 335 388C350 368 362 338 360 310C358 280 340 256 318 254C300 252 285 262 282 277C298 268 322 274 333 296C342 322 332 350 305 360C262 372 212 352 194 318C178 288 184 250 215 232C224 198 252 162 292 152C332 144 366 164 381 195C421 196 456 228 459 272C463 332 422 402 352 442C302 468 242 482 207 479C190 478 184 470 190 463Z"/>
<text transform="translate(1034.0,567.0) scale(1.03,1.04)" font-size="30.5" font-weight="900" fill="#aaa" fill-opacity="0.96" style="font-family:'Liberation Serif','Noto Serif CJK SC',serif">中金网</text>
<text x="1035" y="580.3" font-size="9.6" fill="#999" fill-opacity="0.75" textLength="89.5" lengthAdjust="spacing">CNGOLD.COM.CN</text>
<text x="986.5" y="594.6" font-size="12" fill="#999" fill-opacity="0.75" style="letter-spacing:8.6px">中文财经新媒体</text>
</g>
</svg></body></html>
